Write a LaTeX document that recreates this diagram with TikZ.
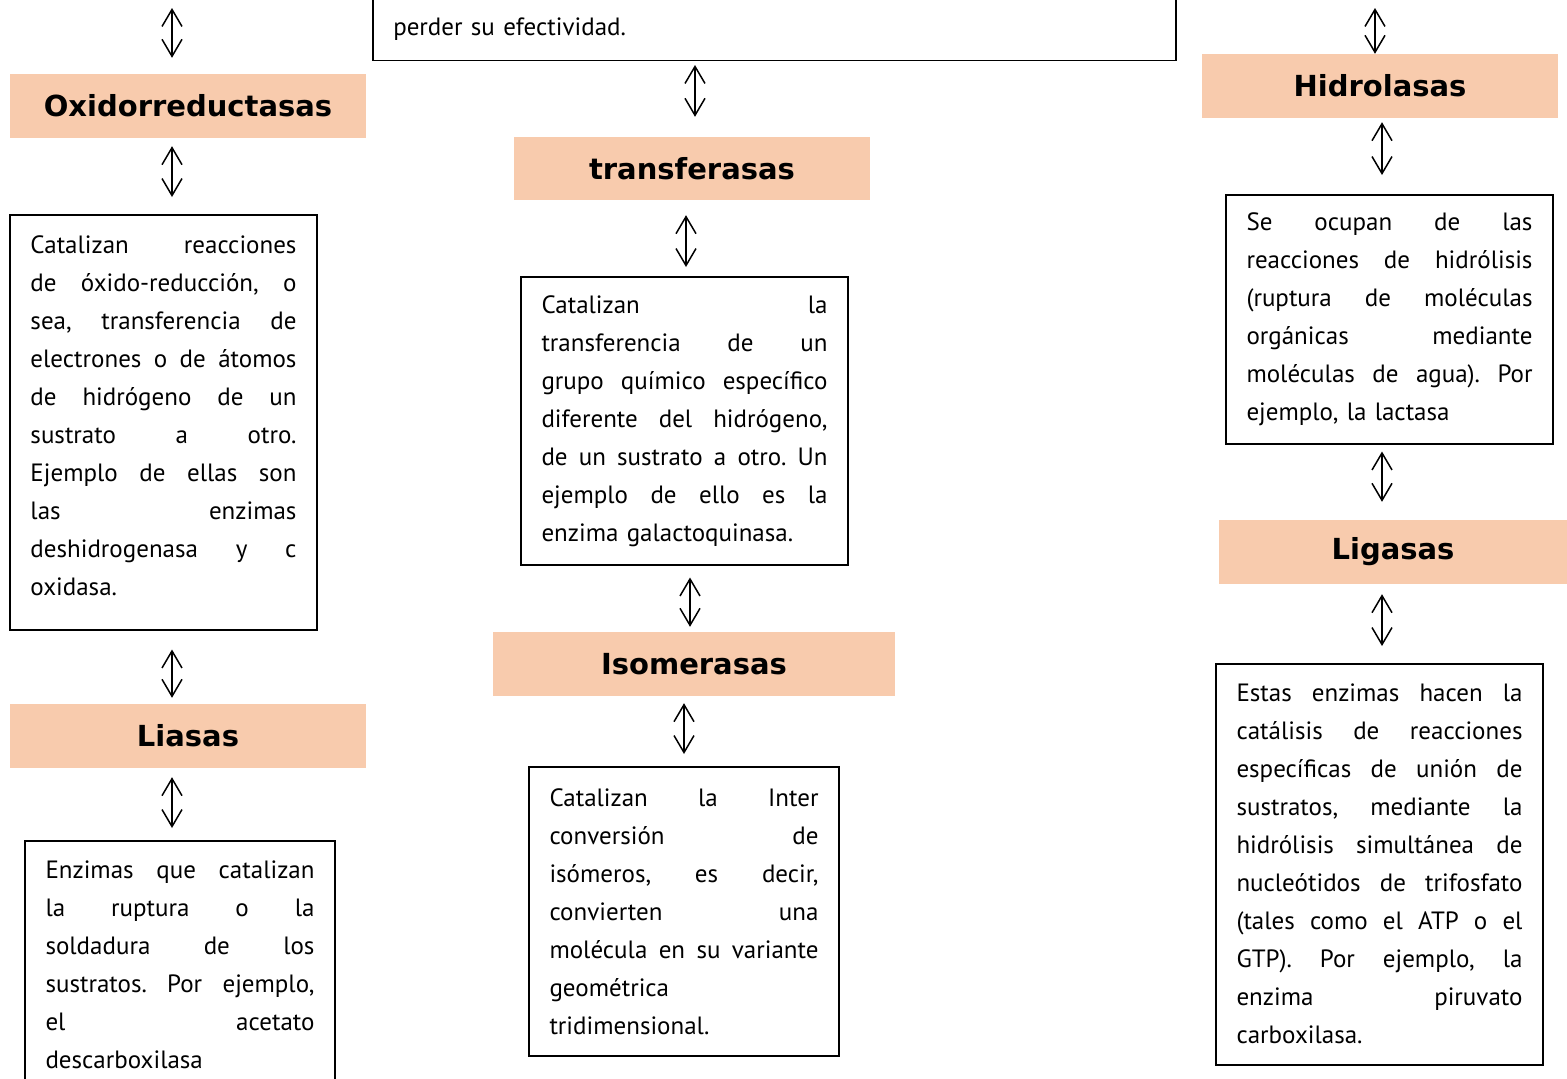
\documentclass[tikz,border=0pt]{standalone}
\usepackage{fontspec}
\setmainfont{PT Sans}
\newfontfamily\hdrfont{DejaVu Sans}
\usetikzlibrary{arrows.meta}
\definecolor{hdrfill}{HTML}{F8CBAD}
\setlength{\parindent}{0pt}
\frenchspacing
\newlength\colw
% one justified line of a description box
\newcommand{\jl}[1]{\leavevmode\hbox to \colw{\spaceskip=0.25em plus 1fil\relax #1}\\}

\begin{document}
\begin{tikzpicture}[x=1pt,y=-1pt,
  hdr/.style={fill=hdrfill, minimum height=64pt, inner sep=0pt, font=\hdrfont\bfseries\fontsize{29}{34}\selectfont},
  desc/.style={draw, line width=1.5pt, anchor=north, align=left, inner xsep=20.5pt,
    text width=#1, execute at begin node={\setlength\colw{#1}}, font=\fontsize{25}{38}\selectfont},
  link/.style={{Straight Barb[length=17pt,width=20pt]}-{Straight Barb[length=17pt,width=20pt]}, line width=1.5pt}
]
\useasboundingbox (0,0) rectangle (1567,1079);

% headers
\node[hdr, minimum width=356pt] (oxi) at (188,106) {Oxidorreductasas};
\node[hdr, minimum width=356pt] (lia) at (188,736) {Liasas};
\node[hdr, minimum width=356pt, minimum height=63pt] (trans) at (692,168.5) {transferasas};
\node[hdr, minimum width=402pt] (iso) at (694,664) {Isomerasas};
\node[hdr, minimum width=356pt] (hid) at (1380,86) {Hidrolasas};
\node[hdr, minimum width=348pt] (lig) at (1393,552) {Ligasas};

% boxes
\node[desc=762pt, anchor=south west, text height=60pt, text depth=11pt, inner ysep=14pt] (intro) at (372,61) {perder su efectividad.};

\node[desc=266pt, minimum height=415pt] (oxid) at (163.5,214) {%
\jl{Catalizan reacciones}
\jl{de óxido-reducción, o}
\jl{sea, transferencia de}
\jl{electrones o de átomos}
\jl{de hidrógeno de un}
\jl{sustrato a otro.}
\jl{Ejemplo de ellas son}
\jl{las enzimas}
\jl{deshidrogenasa y c}
oxidasa.\rule[-14pt]{0pt}{0pt}};

\node[desc=269pt, minimum height=263pt] (liad) at (180,840) {%
\jl{Enzimas que catalizan}
\jl{la ruptura o la}
\jl{soldadura de los}
\jl{sustratos. Por ejemplo,}
\jl{el acetato}
descarboxilasa\rule[-16pt]{0pt}{0pt}};

\node[desc=286pt, minimum height=288pt] (transd) at (684.5,276) {%
\jl{Catalizan la}
\jl{transferencia de un}
\jl{grupo químico específico}
\jl{diferente del hidrógeno,}
\jl{de un sustrato a otro. Un}
\jl{ejemplo de ello es la}
enzima galactoquinasa.};

\node[desc=269pt, minimum height=289pt] (isod) at (684,766) {%
\jl{Catalizan la Inter}
\jl{conversión de}
\jl{isómeros, es decir,}
\jl{convierten una}
\jl{molécula en su variante}
geométrica\\
tridimensional.};

\node[desc=286pt, minimum height=249pt] (hidd) at (1389.5,194) {%
\jl{Se ocupan de las}
\jl{reacciones de hidrólisis}
\jl{(ruptura de moléculas}
\jl{orgánicas mediante}
\jl{moléculas de agua). Por}
ejemplo, la lactasa};

\node[desc=286pt, minimum height=401pt] (ligd) at (1379.5,663) {%
\jl{Estas enzimas hacen la}
\jl{catálisis de reacciones}
\jl{específicas de unión de}
\jl{sustratos, mediante la}
\jl{hidrólisis simultánea de}
\jl{nucleótidos de trifosfato}
\jl{(tales como el ATP o el}
\jl{GTP). Por ejemplo, la}
\jl{enzima piruvato}
carboxilasa.};

% arrow columns
\coordinate (topL) at (172,8);
\coordinate (topR) at (1375,8);
\coordinate (colA) at (695,0);
\coordinate (colB) at (686,0);
\coordinate (colC) at (690,0);
\coordinate (colD) at (684,0);
\coordinate (colR) at (1382,0);

% left column
\draw[link, shorten >=16pt] (topL) -- (oxi.north -| topL);
\draw[link, shorten <=8pt, shorten >=17pt] (oxi.south -| topL) -- (oxid.north -| topL);
\draw[link, shorten <=19pt, shorten >=6pt] (oxid.south -| topL) -- (lia.north -| topL);
\draw[link, shorten <=9pt, shorten >=12pt] (lia.south -| topL) -- (liad.north -| topL);

% middle column
\draw[link, shorten <=4pt, shorten >=20pt] (intro.south -| colA) -- (trans.north -| colA);
\draw[link, shorten <=15pt, shorten >=9pt] (trans.south -| colB) -- (transd.north -| colB);
\draw[link, shorten <=12pt, shorten >=5pt] (transd.south -| colC) -- (iso.north -| colC);
\draw[link, shorten <=7pt, shorten >=12pt] (iso.south -| colD) -- (isod.north -| colD);

% right column
\draw[link] (topR) -- (hid.north -| topR);
\draw[link, shorten <=4pt, shorten >=19pt] (hid.south -| colR) -- (hidd.north -| colR);
\draw[link, shorten <=7pt, shorten >=18pt] (hidd.south -| colR) -- (lig.north -| colR);
\draw[link, shorten <=10pt, shorten >=17pt] (lig.south -| colR) -- (ligd.north -| colR);

\end{tikzpicture}
\end{document}
